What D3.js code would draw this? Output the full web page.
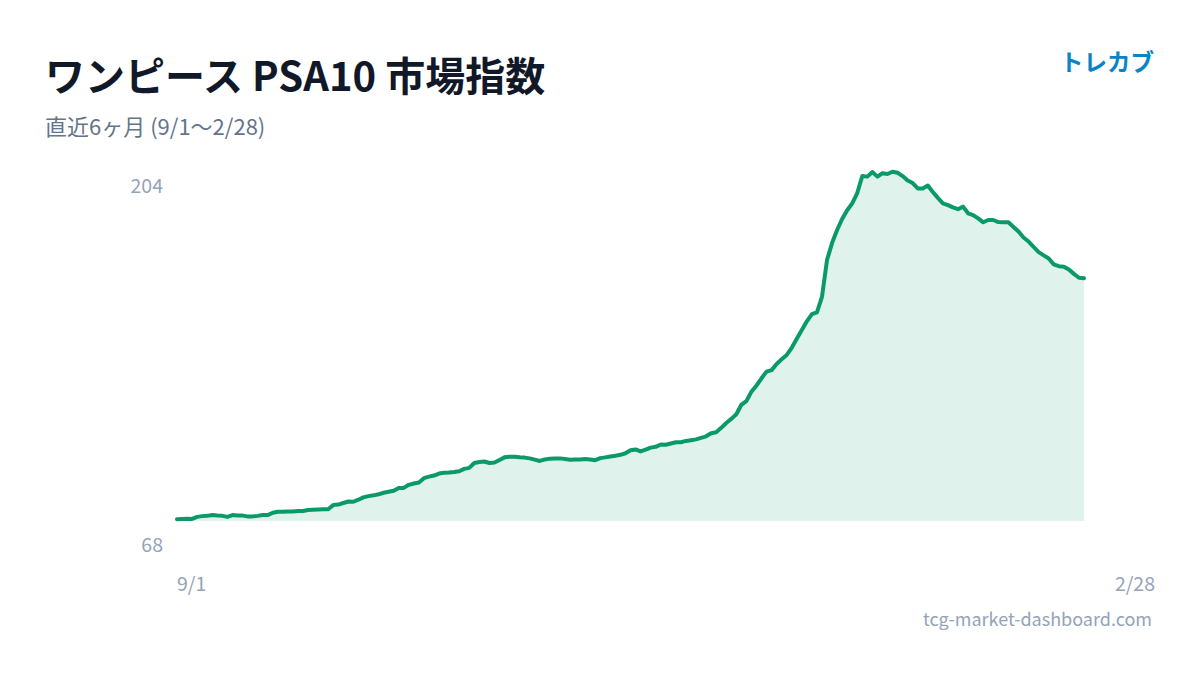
<!DOCTYPE html>
<html>
<head>
<meta charset="utf-8">
<script src="https://cdn.jsdelivr.net/npm/d3@7"></script>
<style>
  html, body { margin: 0; padding: 0; background: #ffffff; }
  svg { display: block; font-family: "Noto Sans CJK JP", "Noto Sans", sans-serif; }
</style>
</head>
<body>
<svg id="chart" width="1200" height="675"></svg>
<script>
// ---- data ----
const title = "ワンピース PSA10 市場指数";
const subtitle = "直近6ヶ月 (9/1〜2/28)";
const brand = "トレカブ";
const footer = "tcg-market-dashboard.com";
const startDate = "2024-09-01";
const endDate = "2025-02-28";
const xTickLabels = ["9/1", "2/28"];
const yTickValues = [204, 68];
// daily index values, 9/1 .. 2/28
const values = [
  68.7, 68.8, 68.9, 68.8, 69.6, 69.9, 70.0, 70.3, 70.1, 70.0,
  69.6, 70.3, 70.1, 70.1, 69.8, 69.8, 70.0, 70.3, 70.3, 71.2,
  71.6, 71.6, 71.7, 71.7, 71.9, 71.9, 72.3, 72.4, 72.5, 72.6,
  72.6, 74.2, 74.4, 75.0, 75.6, 75.5, 76.3, 77.2, 77.7, 78.0,
  78.4, 79.0, 79.4, 79.8, 80.9, 80.9, 82.1, 82.6, 83.0, 84.7,
  85.3, 85.7, 86.5, 86.8, 86.9, 87.1, 87.4, 88.3, 88.7, 90.6,
  91.0, 91.2, 90.6, 90.8, 91.8, 92.8, 93.0, 93.0, 92.8, 92.7,
  92.4, 91.9, 91.4, 92.0, 92.3, 92.4, 92.4, 92.2, 91.9, 92.0,
  92.0, 92.2, 92.0, 91.7, 92.5, 92.8, 93.1, 93.4, 93.8, 94.4,
  95.6, 95.9, 95.1, 95.8, 96.6, 96.9, 97.8, 97.7, 98.2, 98.7,
  98.7, 99.2, 99.5, 99.8, 100.4, 101.0, 102.2, 102.6, 104.3, 106.2,
  107.8, 109.6, 113.3, 114.7, 118.4, 120.8, 123.6, 126.2, 126.8, 129.2,
  131.0, 132.7, 135.5, 139.0, 142.4, 145.8, 148.6, 149.3, 155.3, 169.7,
  176.3, 181.4, 185.7, 189.1, 191.8, 195.8, 202.4, 202.2, 204.0, 202.2,
  203.5, 203.2, 204.1, 203.7, 202.4, 200.7, 199.7, 197.6, 197.6, 198.7,
  196.2, 193.9, 191.8, 191.1, 190.2, 189.5, 190.5, 187.9, 187.2, 185.9,
  184.4, 185.3, 185.3, 184.5, 184.4, 184.4, 182.6, 180.8, 178.5, 176.9,
  174.8, 172.8, 171.5, 170.3, 168.0, 167.3, 167.1, 166.0, 164.3, 162.8,
  162.6
];

// ---- build ----
const parse = d3.timeParse("%Y-%m-%d");
const t0 = parse(startDate), t1 = parse(endDate);
const data = values.map((v, i) => ({ date: d3.timeDay.offset(t0, i), value: v }));

const svg = d3.select("#chart");
const x = d3.scaleTime().domain([t0, t1]).range([177, 1084]);
const y = d3.scaleLinear().domain([d3.min(yTickValues), d3.max(yTickValues)]).range([521, 172]);

// titles
svg.append("text").attr("x", 45).attr("y", 91)
  .attr("font-size", 40).attr("font-weight", 700).attr("fill", "#111827")
  .text(title);
svg.append("text").attr("x", 45).attr("y", 135)
  .attr("font-size", 22).attr("fill", "#64748b")
  .text(subtitle);
svg.append("text").attr("x", 1154).attr("y", 71)
  .attr("text-anchor", "end")
  .attr("font-size", 23.5).attr("font-weight", 700).attr("fill", "#0a84c6")
  .text(brand);

// area + line
const area = d3.area()
  .x(d => x(d.date)).y0(y(d3.min(yTickValues))).y1(d => y(d.value));
const line = d3.line()
  .x(d => x(d.date)).y(d => y(d.value));

svg.append("path").datum(data).attr("d", area)
  .attr("fill", "#dff3ec");
svg.append("path").datum(data).attr("d", line)
  .attr("fill", "none").attr("stroke", "#0a9a6a")
  .attr("stroke-width", 4).attr("stroke-linejoin", "round").attr("stroke-linecap", "round");

// y labels (max at top, min below plot)
svg.append("text").attr("x", 163).attr("y", y(yTickValues[0]) + 21)
  .attr("text-anchor", "end").attr("font-size", 19.5).attr("fill", "#94a3b8")
  .text(yTickValues[0]);
svg.append("text").attr("x", 163).attr("y", y(yTickValues[1]) + 31)
  .attr("text-anchor", "end").attr("font-size", 19.5).attr("fill", "#94a3b8")
  .text(yTickValues[1]);

// x labels
svg.append("text").attr("x", x(t0)).attr("y", 591)
  .attr("text-anchor", "start").attr("font-size", 19.5).attr("fill", "#94a3b8")
  .text(xTickLabels[0]);
svg.append("text").attr("x", 1155).attr("y", 591)
  .attr("text-anchor", "end").attr("font-size", 19.5).attr("fill", "#94a3b8")
  .text(xTickLabels[1]);

// footer
svg.append("text").attr("x", 1152).attr("y", 626)
  .attr("text-anchor", "end").attr("font-size", 18).attr("fill", "#94a3b8")
  .text(footer);
</script>
</body>
</html>
